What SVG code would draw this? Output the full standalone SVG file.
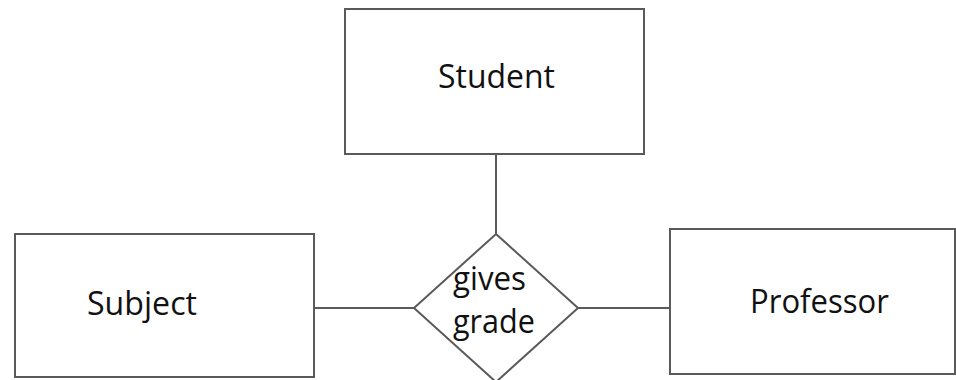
<svg xmlns="http://www.w3.org/2000/svg" width="956" height="380" viewBox="0 0 956 380">
<style>
.box{fill:#fff;stroke:#5a5a5a;stroke-width:2}
.ln{stroke:#5a5a5a;stroke-width:2;fill:none}
.t{font-family:"Open Sans","Liberation Sans",sans-serif;font-size:32px;fill:#111}
</style>
<rect width="956" height="380" fill="#fff"/>
<g id="connectors">
<line class="ln" x1="496" y1="154" x2="496" y2="234"/>
<line class="ln" x1="314" y1="308" x2="414" y2="308"/>
<line class="ln" x1="578" y1="308" x2="670" y2="308"/>
</g>
<g id="student">
<rect class="box" x="345" y="9" width="299" height="145"/>
<text class="t" x="438" y="88" textLength="117" lengthAdjust="spacingAndGlyphs">Student</text>
</g>
<g id="subject">
<rect class="box" x="15" y="234" width="299" height="143"/>
<text class="t" x="87" y="315" textLength="110" lengthAdjust="spacingAndGlyphs">Subject</text>
</g>
<g id="professor">
<rect class="box" x="670" y="229" width="285" height="145"/>
<text class="t" x="750" y="313" textLength="139" lengthAdjust="spacingAndGlyphs">Professor</text>
</g>
<g id="gives-grade">
<polygon class="box" points="496,234 578,308 496,382 414,308"/>
<text class="t" x="453" y="290" textLength="73" lengthAdjust="spacingAndGlyphs">gives</text>
<text class="t" x="453" y="333" textLength="82" lengthAdjust="spacingAndGlyphs">grade</text>
</g>
</svg>
